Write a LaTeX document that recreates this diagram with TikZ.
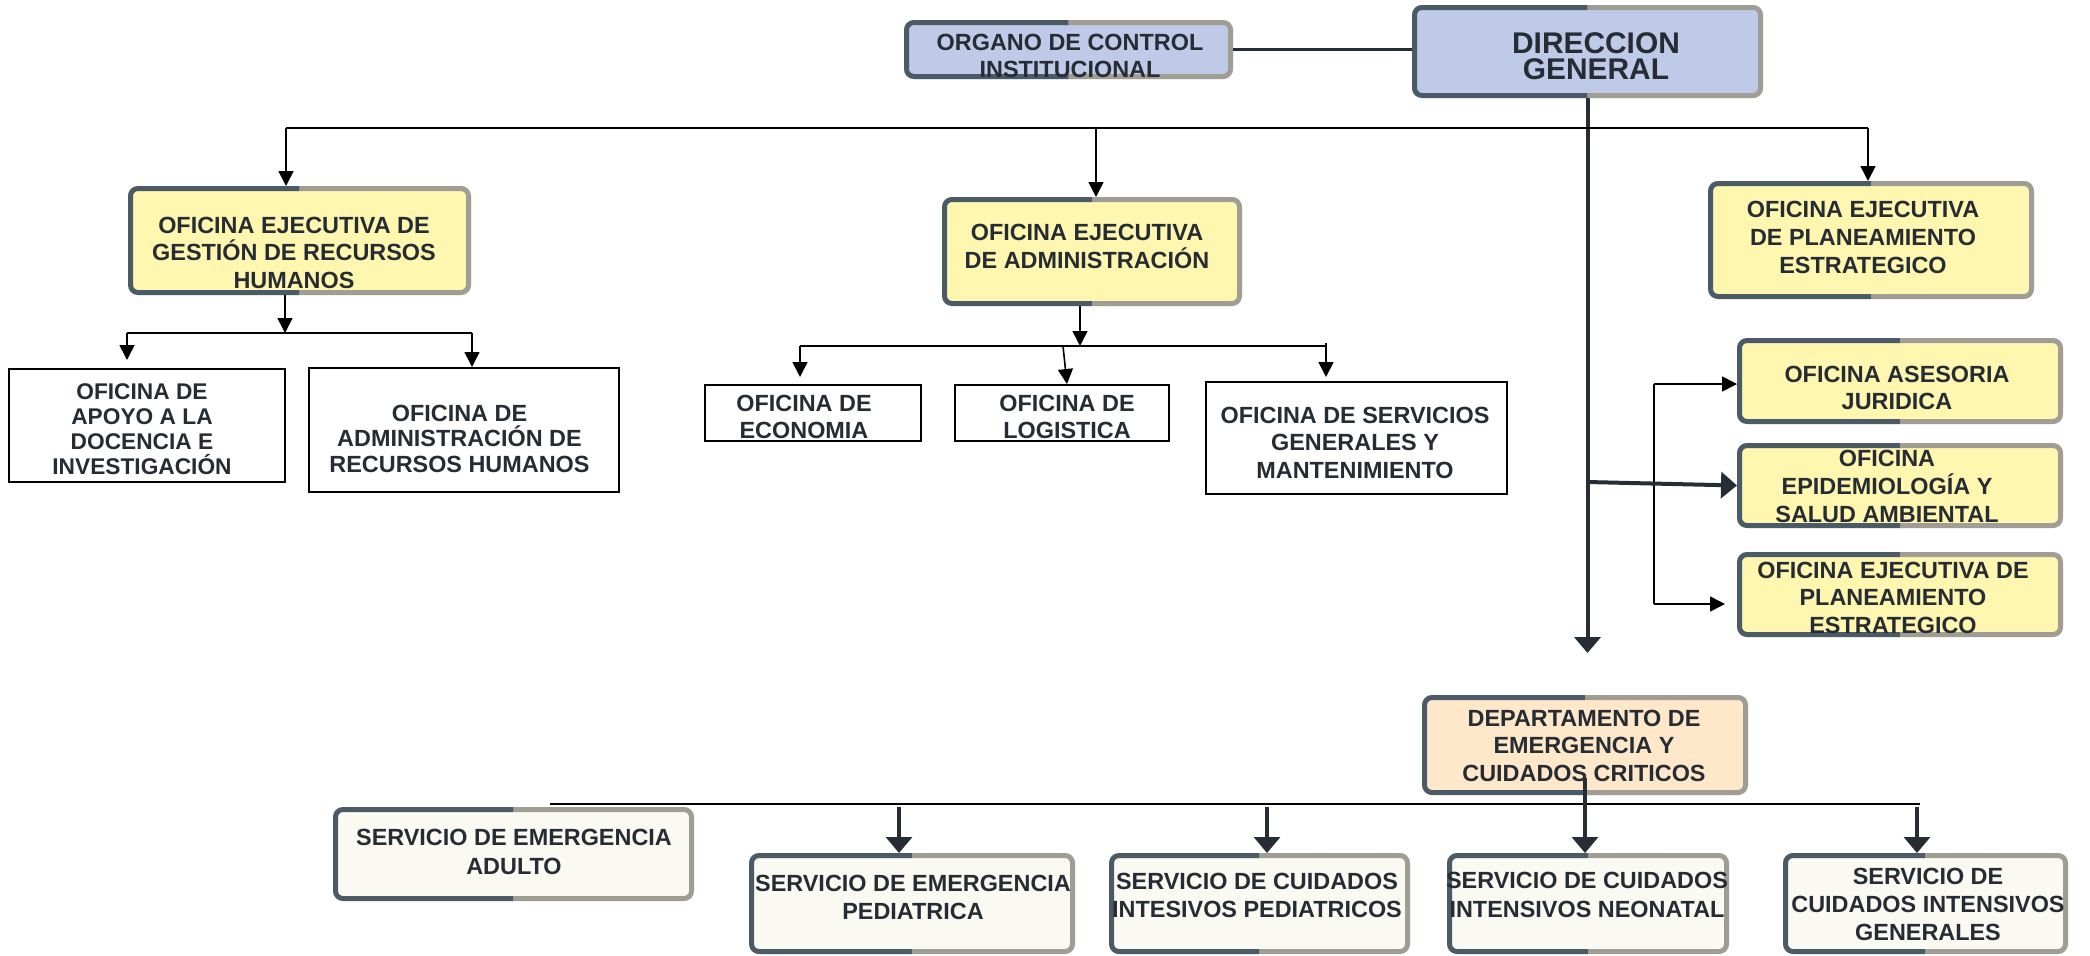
\documentclass[tikz,border=0pt]{standalone}
\usepackage{fontspec}
\setmainfont{Liberation Sans}
\usetikzlibrary{arrows.meta,fit,calc}

\definecolor{ink}{HTML}{262C33}
\definecolor{edgeL}{HTML}{4B5A67}
\definecolor{edgeR}{HTML}{A09E94}
\definecolor{blueF}{HTML}{BFCAE8}
\definecolor{yellowF}{HTML}{FFF6B0}
\definecolor{peachF}{HTML}{FFE7CA}
\definecolor{creamF}{HTML}{FBFAF2}
\definecolor{linkdark}{HTML}{262D34}

% Rounded panel with a two-tone frame: dark left half, grey right half.
% #1 name, #2 x1, #3 y1, #4 x2, #5 y2 (outer edges), #6 fill colour
\newcommand\cardbox[6]{%
  \node[inner sep=0pt, outer sep=0pt, fit={(#2,#3)(#4,#5)}, rounded corners=10bp, fill=#6] (#1) {};
  \begin{scope}
    \clip (#2-4,#3-4) rectangle ({(#2+#4)/2},#5+4);
    \draw[frame, draw=edgeL] (#2+2.5,#3+2.5) rectangle (#4-2.5,#5-2.5);
  \end{scope}
  \begin{scope}
    \clip ({(#2+#4)/2},#3-4) rectangle (#4+4,#5+4);
    \draw[frame, draw=edgeR] (#2+2.5,#3+2.5) rectangle (#4-2.5,#5-2.5);
  \end{scope}}

\begin{document}
\begin{tikzpicture}[x=1bp,y=-1bp,
  frame/.style={line width=5bp, rounded corners=7.5bp},
  plainbox/.style={inner sep=0pt, draw=black, line width=2bp, fill=white},
  % labels are placed by the baseline of their last line
  lbl/.style={font={\bfseries\fontsize{23.5pt}{27.5pt}\selectfont}, text=ink, align=center, anchor=base, inner sep=0pt},
  thin link/.style={line width=1.6bp, draw=black},
  thin arrow/.style={thin link, -{Triangle[length=15bp,width=15bp]}},
  thick link/.style={line width=3.4bp, draw=linkdark},
  thick arrow/.style={thick link, -{Triangle[length=16bp,width=26bp]}},
]
\useasboundingbox (0,0) rectangle (2090,956);

% ---------- panels ----------
\cardbox{org}{904}{20}{1233}{79}{blueF}
\cardbox{dg}{1412}{5}{1763}{98}{blueF}
\cardbox{gh}{128}{186}{471}{295}{yellowF}
\cardbox{adm}{942}{197}{1242}{306}{yellowF}
\cardbox{pe}{1708}{181}{2034}{299}{yellowF}
\cardbox{ases}{1737}{338}{2063}{424}{yellowF}
\cardbox{epi}{1737}{443}{2063}{528}{yellowF}
\cardbox{pe2}{1737}{552}{2063}{637}{yellowF}
\cardbox{dept}{1422}{695}{1748}{795}{peachF}
\cardbox{adul}{333}{807}{694}{901}{creamF}
\cardbox{eped}{749}{853}{1075}{954}{creamF}
\cardbox{cped}{1109}{853}{1410}{954}{creamF}
\cardbox{cneo}{1447}{853}{1729}{954}{creamF}
\cardbox{cgen}{1783}{853}{2068}{954}{creamF}

% plain offices
\node[plainbox, fit={(9,369)(285,482)}] (apoyo) {};
\node[plainbox, fit={(309,368)(619,492)}] (rrhh) {};
\node[plainbox, fit={(705,385)(921,441)}] (econ) {};
\node[plainbox, fit={(955,385)(1169,441)}] (logi) {};
\node[plainbox, fit={(1206,382)(1507,494)}] (serv) {};

% ---------- labels ----------
\node[lbl, font={\bfseries\fontsize{23.5pt}{27pt}\selectfont}] (t-org) at (1070,77) {ORGANO DE CONTROL\\INSTITUCIONAL};
\node[lbl, font={\bfseries\fontsize{30pt}{26pt}\selectfont}] (t-dg) at (1596,79) {DIRECCION\\GENERAL};
\node[lbl] (t-gh) at (294,288) {OFICINA EJECUTIVA DE\\GESTIÓN DE RECURSOS\\HUMANOS};
\node[lbl, font={\bfseries\fontsize{23.5pt}{28pt}\selectfont}] (t-adm) at (1087,268) {OFICINA EJECUTIVA\\DE ADMINISTRACIÓN};
\node[lbl, font={\bfseries\fontsize{23.5pt}{28pt}\selectfont}] (t-pe) at (1863,273) {OFICINA EJECUTIVA\\DE PLANEAMIENTO\\ESTRATEGICO};
\node[lbl, font={\bfseries\fontsize{23.5pt}{27pt}\selectfont}] (t-ases) at (1897,409) {OFICINA ASESORIA\\JURIDICA};
\node[lbl, font={\bfseries\fontsize{23.5pt}{28pt}\selectfont}] (t-epi) at (1887,522) {OFICINA\\EPIDEMIOLOGÍA Y\\SALUD AMBIENTAL};
\node[lbl] (t-pe2) at (1893,633) {OFICINA EJECUTIVA DE\\PLANEAMIENTO\\ESTRATEGICO};
\node[lbl, font={\bfseries\fontsize{22.8pt}{25pt}\selectfont}] (t-apoyo) at (142,474) {OFICINA DE\\APOYO A LA\\DOCENCIA E\\INVESTIGACIÓN};
\node[lbl, font={\bfseries\fontsize{23.5pt}{25.5pt}\selectfont}] (t-rrhh) at (459.5,472) {OFICINA DE\\ADMINISTRACIÓN DE\\RECURSOS HUMANOS};
\node[lbl, font={\bfseries\fontsize{23.5pt}{27pt}\selectfont}] (t-econ) at (804,438) {OFICINA DE\\ECONOMIA};
\node[lbl, font={\bfseries\fontsize{23.5pt}{27pt}\selectfont}] (t-logi) at (1067,438) {OFICINA DE\\LOGISTICA};
\node[lbl] (t-serv) at (1355,478) {OFICINA DE SERVICIOS\\GENERALES Y\\MANTENIMIENTO};
\node[lbl] (t-dept) at (1584,781) {DEPARTAMENTO DE\\EMERGENCIA Y\\CUIDADOS CRITICOS};
\node[lbl, font={\bfseries\fontsize{23.5pt}{29pt}\selectfont}] (t-adul) at (514,874) {SERVICIO DE EMERGENCIA\\ADULTO};
\node[lbl, font={\bfseries\fontsize{23.5pt}{28pt}\selectfont}] (t-eped) at (913,919) {SERVICIO DE EMERGENCIA\\PEDIATRICA};
\node[lbl, font={\bfseries\fontsize{23.5pt}{28pt}\selectfont}] (t-cped) at (1257,917) {SERVICIO DE CUIDADOS\\INTESIVOS PEDIATRICOS};
\node[lbl, font={\bfseries\fontsize{23.5pt}{29pt}\selectfont}] (t-cneo) at (1587,917) {SERVICIO DE CUIDADOS\\INTENSIVOS NEONATAL};
\node[lbl, font={\bfseries\fontsize{23.5pt}{28pt}\selectfont}] (t-cgen) at (1928,940) {SERVICIO DE\\CUIDADOS INTENSIVOS\\GENERALES};

% ---------- connectors ----------
% control body beside the general direction
\draw[thick link, line width=3bp] (org.east) -- (org.east -| dg.west);

% main trunk
\coordinate (trunkEnd) at (1587,653);
\draw[thick arrow, line width=4bp] (dg.south) -- (dg.south |- trunkEnd);

% executive offices bar
\coordinate (barL) at (286,128);
\coordinate (barM) at (1096,128);
\coordinate (barR) at (1868,128);
\draw[thin link] (barL) -- (barR);
\draw[thin arrow] (barL) -- (barL |- gh.north);
\draw[thin arrow] (barM) -- (barM |- adm.north);
\draw[thin arrow] (barR) -- (barR |- pe.north);

% human resources branch
\coordinate (ghJ) at (285,333);
\coordinate (ghL) at (127,333);
\coordinate (ghR) at (472,333);
\draw[thin arrow] (ghJ |- gh.south) -- (ghJ);
\draw[thin link] (ghL) -- (ghR);
\draw[thin arrow, shorten >=8bp] (ghL) -- (ghL |- apoyo.north);
\draw[thin arrow] (ghR) -- (ghR |- rrhh.north);

% administration branch
\coordinate (admJ) at (1080,346);
\coordinate (admL) at (800,346);
\coordinate (admM) at (1063,346);
\coordinate (admR) at (1326,346);
\draw[thin arrow] (admJ |- adm.south) -- (admJ);
\draw[thin link] (admL) -- (admR);
\draw[thin arrow, shorten >=7bp] (admL) -- (admL |- econ.north);
\draw[thin arrow] (admM) -- ([xshift=5bp]logi.north);
\draw[thin arrow, shorten >=4bp] ([yshift=3bp]admR) -- (admR |- serv.north);

% advisory offices
\coordinate (brT) at (1654,384);
\coordinate (brB) at (1654,604);
\draw[thin link] (brT) -- (brB);
\draw[thin arrow] (brT) -- (brT -| ases.west);
\draw[thin arrow, shorten >=12bp] (brB) -- (brB -| pe2.west);
\coordinate (epiJ) at (1587,482);
\draw[thick arrow, line width=4bp] (epiJ) -- (epi.west);

% emergency department services
\coordinate (lowL) at (550,804);
\coordinate (lowR) at (1920,804);
\draw[thin link] (lowL) -- (lowR);
\coordinate (dEP) at (899,807);
\coordinate (dCP) at (1267,807);
\coordinate (dCG) at (1917,807);
\draw[thick arrow] (dEP) -- (dEP |- eped.north);
\draw[thick arrow] (dCP) -- (dCP |- cped.north);
\draw[thick arrow] (dCG) -- (dCG |- cgen.north);
\draw[thick arrow] ([yshift=17bp]dept.south) -- (dept.south |- cneo.north);
\end{tikzpicture}
\end{document}
